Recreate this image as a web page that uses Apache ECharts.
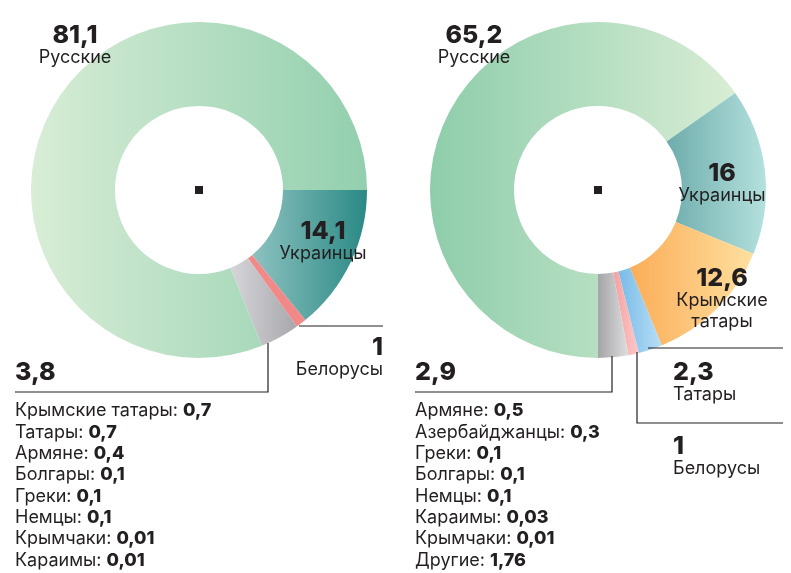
<!DOCTYPE html>
<html>
<head>
<meta charset="utf-8">
<script src="https://cdn.jsdelivr.net/npm/echarts@6/dist/echarts.min.js"></script>
<style>
  html, body { margin: 0; background: #fff; }
  #chart { width: 791px; height: 573px; }
</style>
</head>
<body>
<div id="chart"></div>
<script>
// левая диаграмма (по часовой стрелке от 3 часов)
const leftNames = ['Украинцы', 'Белорусы', 'Другие', 'Русские'];
const leftValues = [14.1, 1, 3.8, 81.1];
const leftOtherNames = ['Крымские татары', 'Татары', 'Армяне', 'Болгары', 'Греки', 'Немцы', 'Крымчаки', 'Караимы', 'Другие'];
const leftOtherValues = [0.7, 0.7, 0.4, 0.1, 0.1, 0.1, 0.01, 0.01, 1.7];

// правая диаграмма (по часовой стрелке от 6 часов)
const rightNames = ['Русские', 'Украинцы', 'Крымские татары', 'Татары', 'Белорусы', 'Другие'];
const rightValues = [65.2, 16, 12.6, 2.3, 1, 2.9];
const rightOtherNames = ['Армяне', 'Азербайджанцы', 'Греки', 'Болгары', 'Немцы', 'Караимы', 'Крымчаки', 'Другие'];
const rightOtherValues = [0.5, 0.3, 0.1, 0.1, 0.1, 0.03, 0.01, 1.76];

// цвета градиентов [слева, справа]
const leftColors = [
  ['#8dc2c0', '#2a8985'],
  ['#f28a8a', '#f28888'],
  ['#d6d6da', '#a8a8ac'],
  ['#d8edd6', '#92cfae']
];
const rightColors = [
  ['#8ecdab', '#d8edd4'],
  ['#6eacac', '#b4e1dd'],
  ['#fbad58', '#fee09f'],
  ['#78bbe8', '#b8def5'],
  ['#f4a0a0', '#fcc9c9'],
  ['#a5a5a9', '#dededf']
];

const TXT = '#231f20';
const fmt = v => String(v).replace('.', ',');
const grad = c => ({
  type: 'linear', x: 0, y: 0, x2: 1, y2: 0,
  colorStops: [{ offset: 0, color: c[0] }, { offset: 1, color: c[1] }]
});

function pie(center, startAngle, names, values, colors) {
  return {
    type: 'pie',
    center: center,
    radius: [84, 168],
    startAngle: startAngle,
    clockwise: true,
    silent: true,
    z: 1,
    label: { show: false },
    labelLine: { show: false },
    emphasis: { disabled: true },
    itemStyle: { borderWidth: 0 },
    data: values.map((v, i) => ({
      name: names[i],
      value: v,
      itemStyle: { color: grad(colors[i]) }
    }))
  };
}

// подпись: жирное число + название
function label(x, y, align, value, name) {
  const lines = name.split('\n');
  const out = [{
    type: 'text', z: 100,
    style: { text: fmt(value), x: x, y: y, align: align, verticalAlign: 'middle',
      font: '800 25px Inter', fill: TXT }
  }];
  lines.forEach((l, i) => {
    out.push({
      type: 'text', z: 100,
      style: { text: l, x: x, y: y + 23 + i * 21, align: align, verticalAlign: 'middle',
        font: '400 18px Inter', fill: TXT }
    });
  });
  return out;
}

function list(x, y, names, values) {
  return names.map((n, i) => ({
    type: 'text', z: 100,
    style: {
      text: '{n|' + n + ': }{v|' + fmt(values[i]) + '}',
      x: x, y: y + i * 21.3, align: 'left', verticalAlign: 'middle',
      rich: {
        n: { font: '400 18px Inter', fill: TXT },
        v: { font: '800 18px Inter', fill: TXT }
      }
    }
  }));
}

function line(points) {
  return {
    type: 'polyline', z: 100,
    shape: { points: points },
    style: { stroke: TXT, lineWidth: 1.2, fill: null }
  };
}

const graphics = [].concat(
  // центральные точки
  [{ type: 'rect', z: 100, shape: { x: 195, y: 186, width: 8, height: 8 }, style: { fill: TXT } },
   { type: 'rect', z: 100, shape: { x: 594, y: 186, width: 8, height: 8 }, style: { fill: TXT } }],
  // левая
  label(75, 35, 'center', leftValues[3], leftNames[3]),
  label(323, 231, 'center', leftValues[0], leftNames[0]),
  label(383, 347, 'right', leftValues[1], leftNames[1]),
  [{ type: 'text', z: 100, style: { text: fmt(leftValues[2]), x: 15, y: 372, align: 'left',
     verticalAlign: 'middle', font: '800 25px Inter', fill: TXT } }],
  list(15, 411, leftOtherNames, leftOtherValues),
  [line([[268, 343], [268, 392], [15, 392]]), line([[299, 326], [383, 326]])],
  // правая
  label(474, 35, 'center', rightValues[0], rightNames[0]),
  label(722, 173, 'center', rightValues[1], rightNames[1]),
  label(722, 278, 'center', rightValues[2], rightNames[2].replace(' ', '\n')),
  label(673, 372, 'left', rightValues[3], rightNames[3]),
  label(673, 446, 'left', rightValues[4], rightNames[4]),
  [{ type: 'text', z: 100, style: { text: fmt(rightValues[5]), x: 415, y: 372, align: 'left',
     verticalAlign: 'middle', font: '800 25px Inter', fill: TXT } }],
  list(415, 411, rightOtherNames, rightOtherValues),
  [line([[612, 356], [612, 392], [415, 392]]),
   line([[637, 352], [637, 423], [783, 423]]),
   line([[648, 348], [783, 348]])]
);

const chart = echarts.init(document.getElementById('chart'));
chart.setOption({
  animation: false,
  backgroundColor: '#fff',
  series: [
    pie([199, 190], 0, leftNames, leftValues, leftColors),
    pie([598, 190], 270, rightNames, rightValues, rightColors)
  ],
  graphic: graphics
});
</script>
</body>
</html>
